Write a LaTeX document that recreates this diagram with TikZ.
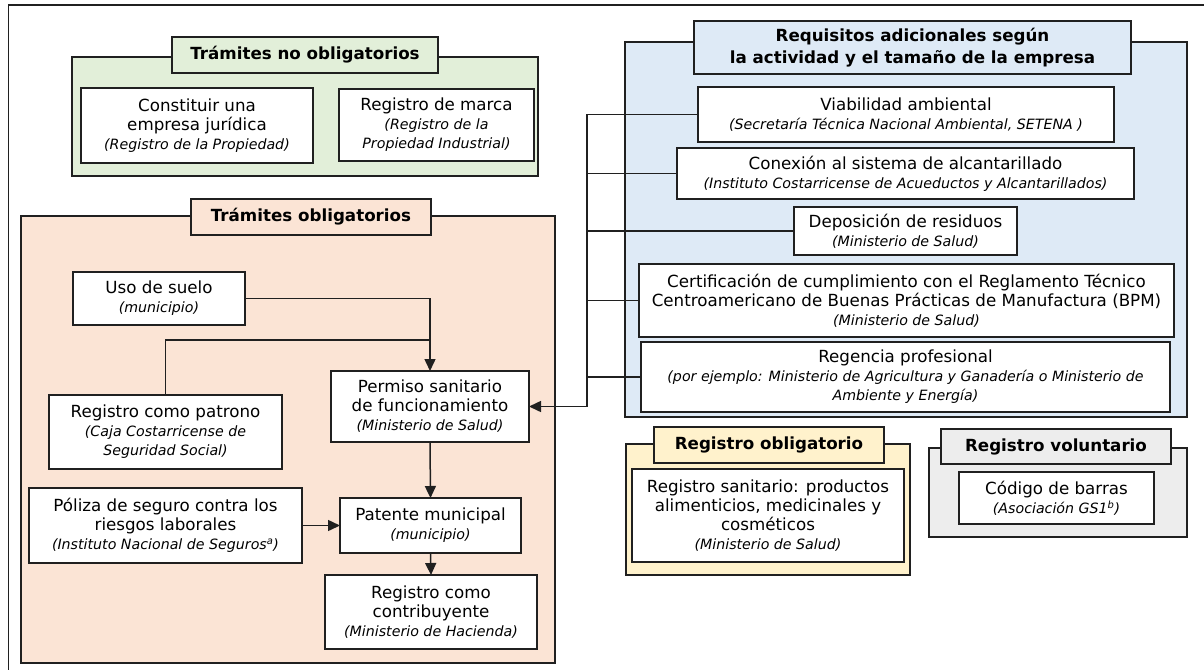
\documentclass[tikz,border=0pt]{standalone}
\usepackage{fontspec}
\setmainfont{DejaVu Sans}
\usetikzlibrary{arrows.meta}
\definecolor{lc}{HTML}{202020}
\definecolor{cgreen}{HTML}{E2EFD9}
\definecolor{cpeach}{HTML}{FBE4D5}
\definecolor{cblue}{HTML}{DEEAF6}
\definecolor{cyellow}{HTML}{FFF2CC}
\definecolor{cgrey}{HTML}{EDEDED}
\newcommand{\txtN}{\fontsize{16.7}{19}\selectfont}
\newcommand{\txtI}{\fontsize{14.2}{19.5}\selectfont\itshape}
\newcommand{\txtB}{\fontsize{16.7}{21.5}\selectfont\bfseries}
\tikzset{
  grp/.style={draw=lc, line width=1.7pt, inner sep=0pt, outer sep=0pt},
  ttl/.style={draw=lc, line width=1.7pt, inner sep=0pt, outer sep=0pt, align=center, font=\txtB},
  bx/.style={draw=lc, fill=white, line width=1.7pt, inner sep=0pt, outer sep=0pt, align=center, font=\txtN},
  con/.style={draw=lc, line width=1.5pt},
  arr/.style={con, -{Triangle[length=12pt,width=11pt]}},
}
\begin{document}
\begin{tikzpicture}[x=1pt, y=-1pt]
\useasboundingbox (0,0) rectangle (1204,669);
% outer frame (only top and left edges visible)
\draw[lc, line width=1.7pt] (1210,5) -- (8.5,5) -- (8.5,675);

% ---------- Trámites no obligatorios ----------
\node[grp, fill=cgreen, minimum width=466pt, minimum height=119pt] (gG) at (305,116.5) {};
\node[ttl, fill=cgreen, minimum width=266pt, minimum height=36pt] (tG) at (305,55) {Trámites no obligatorios};
\node[bx, minimum width=232pt, minimum height=75pt] (cons) at (197,125.5)
  {Constituir una\\empresa jurídica\\{\txtI (Registro de la Propiedad)}};
\node[bx, minimum width=195pt, minimum height=72pt] (marca) at (436.5,125)
  {Registro de marca\\{\txtI (Registro de la}\\{\txtI Propiedad Industrial)}};

% ---------- Trámites obligatorios ----------
\node[grp, fill=cpeach, minimum width=534pt, minimum height=447pt] (gP) at (288,439.5) {};
\node[ttl, fill=cpeach, minimum width=240pt, minimum height=36pt] (tP) at (311,217) {Trámites obligatorios};
\node[bx, minimum width=172pt, minimum height=53pt] (uso) at (159,298.5)
  {Uso de suelo\\{\txtI (municipio)}};
\node[bx, minimum width=198pt, minimum height=71pt] (perm) at (430,406.5)
  {Permiso sanitario\\de funcionamiento\\{\txtI (Ministerio de Salud)}};
\node[bx, minimum width=233pt, minimum height=74pt] (patr) at (165.5,432)
  {Registro como patrono\\{\txtI (Caja Costarricense de}\\{\txtI Seguridad Social)}};
\node[bx, minimum width=273pt, minimum height=75pt] (poli) at (165.5,525.5)
  {Póliza de seguro contra los\\riesgos laborales\\{\txtI (Instituto Nacional de Seguros\textsuperscript{a})}};
\node[bx, minimum width=181pt, minimum height=55pt] (pate) at (430.5,525.5)
  {Patente municipal\\{\txtI (municipio)}};
\node[bx, minimum width=212pt, minimum height=74pt] (contr) at (431,612)
  {Registro como\\contribuyente\\{\txtI (Ministerio de Hacienda)}};

% ---------- Requisitos adicionales ----------
\node[grp, fill=cblue, minimum width=562pt, minimum height=375pt] (gB) at (906,229.5) {};
\node[ttl, fill=cblue, minimum width=437pt, minimum height=53pt] (tB) at (912.5,47.5)
  {Requisitos adicionales según\\la actividad y el tamaño de la empresa};
\node[bx, minimum width=416pt, minimum height=55pt] (viab) at (906,114.5)
  {Viabilidad ambiental\\{\txtI (Secretaría Técnica Nacional Ambiental, SETENA )}};
\node[bx, minimum width=457pt, minimum height=51pt] (conex) at (905.5,173.5)
  {Conexión al sistema de alcantarillado\\{\txtI (Instituto Costarricense de Acueductos y Alcantarillados)}};
\node[bx, minimum width=223pt, minimum height=48pt] (depo) at (905.5,231)
  {Deposición de residuos\\{\txtI (Ministerio de Salud)}};
\node[bx, minimum width=535pt, minimum height=73pt] (cert) at (906.5,300.5)
  {Certificación de cumplimiento con el Reglamento Técnico\\Centroamericano de Buenas Prácticas de Manufactura (BPM)\\{\txtI (Ministerio de Salud)}};
\node[bx, minimum width=529pt, minimum height=70pt] (rege) at (905.5,377)
  {Regencia profesional\\{\txtI (por ejemplo: Ministerio de Agricultura y Ganadería o Ministerio de}\\{\txtI Ambiente y Energía)}};

% ---------- Registro obligatorio ----------
\node[grp, fill=cyellow, minimum width=284pt, minimum height=131pt] (gY) at (768,509.5) {};
\node[ttl, fill=cyellow, minimum width=230pt, minimum height=36pt] (tY) at (769,445) {Registro obligatorio};
\node[bx, minimum width=272pt, minimum height=93pt] (sani) at (768,515.5)
  {Registro sanitario: productos\\alimenticios, medicinales y\\cosméticos\\{\txtI (Ministerio de Salud)}};

% ---------- Registro voluntario ----------
\node[grp, fill=cgrey, minimum width=258pt, minimum height=89pt] (gR) at (1058,492.5) {};
\node[ttl, fill=cgrey, minimum width=230pt, minimum height=35pt] (tR) at (1056,446.5) {Registro voluntario};
\node[bx, minimum width=195pt, minimum height=52pt] (codi) at (1056.5,498)
  {Código de barras\\{\txtI (Asociación GS1\textsuperscript{b})}};

% ---------- connectors ----------
\coordinate (jn) at (430,340);
\coordinate (bx) at (587,406.5);
\draw[arr] (uso.east) -| (perm.north);
\draw[con] (patr.north) |- (jn);
\draw[arr] (perm.south) -- (pate.north);
\draw[arr] (pate.south) -- (contr.north);
\draw[arr] (poli.east) -- (pate.west);
\draw[arr] (viab.west) -| (bx) |- (perm.east);
\draw[con] (conex.west) -- (conex.west -| bx);
\draw[con] (depo.west) -- (depo.west -| bx);
\draw[con] (cert.west) -- (cert.west -| bx);
\draw[con] (rege.west) -- (rege.west -| bx);
\end{tikzpicture}
\end{document}
